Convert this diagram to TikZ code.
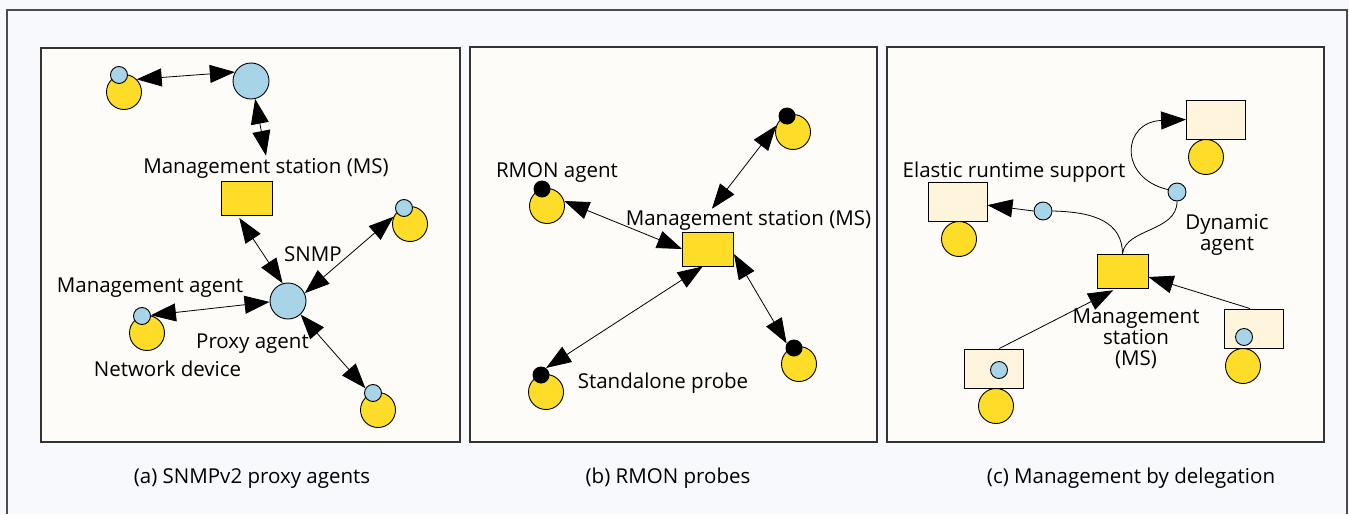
\documentclass[tikz,border=0pt]{standalone}
\usepackage{fontspec}
\setmainfont{Open Sans}
\usetikzlibrary{arrows.meta,calc}
\definecolor{devyellow}{HTML}{FEDD28}
\definecolor{agentblue}{HTML}{A8D4E8}
\definecolor{hostcream}{HTML}{FFF5DC}
\definecolor{panelbg}{HTML}{FDFCF8}
\definecolor{outerbg}{HTML}{F7F9FC}
\tikzset{
	>={Triangle[length=25pt,width=18pt]},
	dev/.style={circle, draw=black, fill=devyellow, line width=0.9pt, minimum size=35pt, inner sep=0pt},
	blip/.style={circle, draw=black, fill=agentblue, line width=0.9pt, minimum size=17pt, inner sep=0pt},
	probedot/.style={circle, fill=black, minimum size=17pt, inner sep=0pt},
	hub/.style={circle, draw=black, fill=agentblue, line width=0.9pt, minimum size=36pt, inner sep=0pt},
	msbox/.style={rectangle, draw=black, fill=devyellow, line width=0.9pt, minimum width=51pt, minimum height=34pt, inner sep=0pt},
	hostbox/.style={rectangle, draw=black, fill=hostcream, line width=0.9pt, minimum width=59pt, minimum height=39pt, inner sep=0pt},
	lbl/.style={font=\fontsize{20.5}{21}\selectfont, anchor=base, inner sep=2pt},
	link/.style={line width=0.8pt, <->},
	push/.style={line width=0.8pt, ->},
	panel/.style={draw=black!80, fill=panelbg, line width=1.1pt}
}

\begin{document}
\begin{tikzpicture}[x=1pt, y=-1pt]
			%%%%% START %%%%%
			
			\useasboundingbox (0, 0) rectangle (1349, 514);
			\fill[outerbg] (0, 0) rectangle (1349, 514);
			\draw[black!70, line width=1.1pt] (7, 514) -- (7, 10) -- (1347, 10) -- (1347, 514);
			
			\draw[panel] (41, 48) rectangle (460, 442);
			\draw[panel] (470, 47) rectangle (877, 442);
			\draw[panel] (887, 47) rectangle (1324, 442);
			
			%% (a) proxy agents
			\node[dev] (devA1) at (124, 92) {};
			\node[blip] (devA1b) at (119, 75) {};
			\node[hub] (topA) at (251, 81) {};
			\node[lbl] (msAlbl) at (266, 173) {Management station (MS)};
			\node[msbox] (msA) at (246.5, 198) {};
			\node[lbl] (snmpA) at (313, 261) {SNMP};
			\node[hub] (proxyA) at (288, 301) {};
			\node[dev] (devA2) at (410, 224) {};
			\node[blip] (devA2b) at (404, 208) {};
			\node[lbl] (magA) at (150, 292) {Management agent};
			\node[dev] (devA3) at (147, 333) {};
			\node[blip] (devA3b) at (142, 316) {};
			\node[lbl] (pxlbl) at (252.5, 348) {Proxy agent};
			\node[lbl] (ndlbl) at (167.5, 376) {Network device};
			\node[dev] (devA4) at (378, 410) {};
			\node[blip] (devA4b) at (373, 393) {};
			
			\draw[link] (devA1.45) -- (topA.151);
			\draw[link] (topA.-77) -- (msAlbl.north);
			\draw[link, shorten <=3pt] (msA.243) -- (proxyA.107);
			\draw[link] (proxyA.25) -- (devA2.156);
			\draw[link] (proxyA.183) -- (devA3b.5);
			\draw[link] (proxyA.313) -- (devA4b.148);
			
			\node[lbl] (capA) at (252, 483) {(a) SNMPv2 proxy agents};
			
			%% (b) RMON probes
			\node[dev] (devB1) at (793, 132) {};
			\node[probedot] (devB1d) at (787, 116) {};
			\node[lbl] (rmonlbl) at (557, 177) {RMON agent};
			\node[dev] (devB2) at (547, 206) {};
			\node[probedot] (devB2d) at (542, 189) {};
			\node[lbl, inner sep=1pt] (msBlbl) at (748.5, 225) {Management station (MS)};
			\node[msbox] (msB) at (708, 249) {};
			\node[dev] (devB3) at (799, 364) {};
			\node[probedot] (devB3d) at (794, 348) {};
			\node[dev] (devB4) at (546, 392) {};
			\node[probedot] (devB4d) at (541, 375) {};
			\node[lbl] (splbl) at (663, 388) {Standalone probe};
			
			\draw[link] (msBlbl.163) -- (devB1.159);
			\draw[link] (devB2.16) -- (msB.west);
			\draw[link] (msB.253) -- (devB4d.54);
			\draw[link] (msB.349) -- (devB3d.148);
			
			\node[lbl] (capB) at (668, 483) {(b) RMON probes};
			
			%% (c) delegation
			\node[dev] (devC1) at (1206, 157) {};
			\node[hostbox] (hostT) at (1216, 119.5) {};
			\node[lbl] (erslbl) at (1014, 177) {Elastic runtime support};
			\node[dev] (devC2) at (959, 239) {};
			\node[hostbox] (hostL) at (957.5, 202) {};
			\node[blip, minimum size=18pt] (dynL) at (1043, 211) {};
			\node[blip, minimum size=18pt] (dynR) at (1177, 192) {};
			\node[lbl, align=center, anchor=north] (dynlbl) at (1227, 212) {Dynamic\\agent};
			\node[msbox] (msC) at (1122.5, 271) {};
			\node[lbl, align=center, anchor=north] (msClbl) at (1136, 307) {Management\\station\\(MS)};
			\node[dev] (devC3) at (996, 406) {};
			\node[hostbox] (hostBL) at (993.5, 368.5) {};
			\node[blip] (devC3b) at (999, 370) {};
			\node[dev] (devC4) at (1243, 366) {};
			\node[hostbox] (hostBR) at (1253.5, 328.5) {};
			\node[blip] (devC4b) at (1244, 337) {};
			
			\draw[line width=0.8pt] (msC.north) .. controls (1122, 222) and (1095, 212) .. (dynL.east);
			\draw[push] (dynL.west) -- (hostL.-6);
			\draw[line width=0.8pt] (msC.north) .. controls (1126, 228) and (1177, 232) .. (dynR.south);
			\draw[push] (dynR.165) .. controls (1118, 178) and (1122, 122) .. (hostT.west);
			\draw[push, shorten >=4pt] (hostBL.74) -- (msC.252);
			\draw[push] (hostBR.100) -- (msC.-13);
			
			\node[lbl] (capC) at (1131, 483) {(c) Management by delegation};
			
			%%%%% END %%%%%
		\end{tikzpicture}
\end{document}
